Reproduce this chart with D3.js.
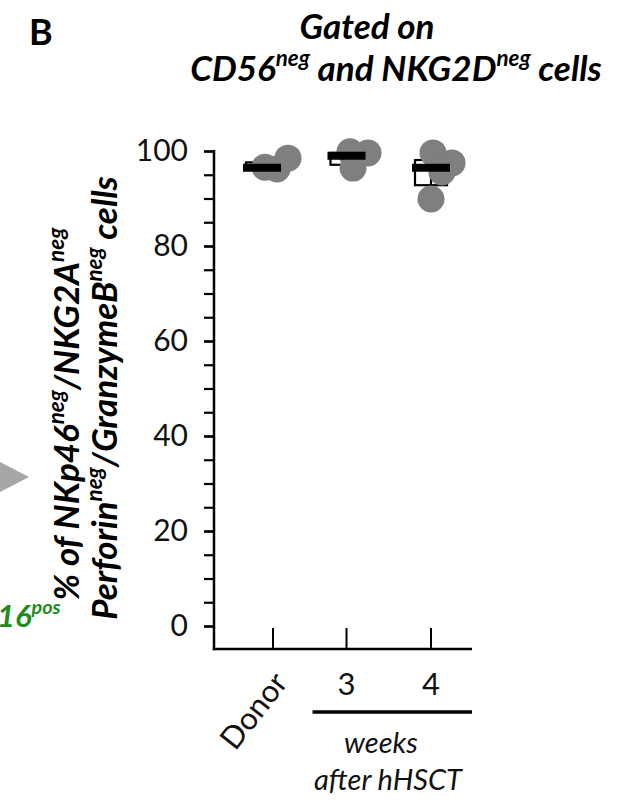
<!DOCTYPE html>
<html>
<head>
<meta charset="utf-8">
<script src="https://cdn.jsdelivr.net/npm/d3@7"></script>
<style>
  body { margin: 0; background: #fff; }
  text { font-family: Lato, "Open Sans", sans-serif; }
</style>
</head>
<body>
<div id="chart"></div>
<script>
// data
const groups = ["Donor", "3", "4"];
const donorValues = [96.6, 96.2, 98.5];
const week3Values = [99.85, 99.6, 96.4];
const week4Values = [99.6, 97.5, 95.6, 89.9];
const groupMeans = [96.5, 99.0, 96.5];
const boxLow = [96.2, 97.1, 92.8];
const boxHigh = [97.6, 99.6, 98.1];
const yTicks = [0, 20, 40, 60, 80, 100];
const yMinorTicks = [0, 5, 10, 15, 20, 25, 30, 35, 40, 45, 50, 55, 60, 65, 70, 75, 80, 85, 90, 95, 100];

// layout
const width = 619, height = 802;
const axisX = 214, axisBottom = 649, axisRight = 472;
const dotR = 13.5;
const dotJitter = [[3, 15, 26], [3.5, 21.5, 6.5], [2, 21, 11, 0]];
const tickNudge = { Donor: 11 };
const grey = "#7f7f7f";

const allValues = [donorValues, week3Values, week4Values];

const svg = d3.select("#chart").append("svg")
    .attr("width", width)
    .attr("height", height);

const x = d3.scalePoint().domain(groups).range([262, 431]);
const y = d3.scaleLinear().domain([0, 100]).range([626, 151]);

// text with superscripts
function rich(sel, parts, size) {
    parts.forEach(([s, sup]) => {
        const t = sel.append("tspan").text(s);
        if (sup) t.attr("font-size", size * 0.64).attr("dy", -size * 0.42);
        else if (sel.selectAll("tspan").size() > 1) t.attr("dy", size * 0.42);
    });
}

// panel letter + title
svg.append("text").attr("x", 29).attr("y", 45)
    .attr("font-size", 36).attr("font-weight", 700).text("B");

svg.append("text").attr("x", 367).attr("y", 39).attr("text-anchor", "middle")
    .attr("font-size", 35).attr("font-weight", 700).attr("font-style", "italic")
    .text("Gated on");
svg.append("text").attr("x", 396).attr("y", 81).attr("text-anchor", "middle")
    .attr("font-size", 35).attr("font-weight", 700).attr("font-style", "italic")
    .call(rich, [["CD56"], ["neg", 1], [" and NKG2D"], ["neg", 1], [" cells"]], 35);

// fragments of the neighbouring panel
svg.append("path").attr("d", "M0,462L29,477L0,492Z").attr("fill", "#a6a6a6");
svg.append("text").attr("x", -3).attr("y", 627)
    .attr("font-size", 31).attr("font-weight", 700).attr("font-style", "italic")
    .attr("fill", "#1e8c1e")
    .call(rich, [["16"], ["pos", 1]], 31);

// y label
svg.append("text").attr("transform", "translate(79,414) rotate(-90)")
    .attr("text-anchor", "middle").attr("font-size", 35)
    .attr("font-weight", 700).attr("font-style", "italic")
    .call(rich, [["% of NKp46"], ["neg", 1], ["/NKG2A"], ["neg", 1]], 35);
svg.append("text").attr("transform", "translate(117,398) rotate(-90)")
    .attr("text-anchor", "middle").attr("font-size", 35)
    .attr("font-weight", 700).attr("font-style", "italic")
    .call(rich, [["Perforin"], ["neg", 1], ["/GranzymeB"], ["neg", 1], [" cells"]], 35);

// y axis
const yMinor = svg.append("g").attr("transform", `translate(${axisX},0)`)
    .call(d3.axisLeft(y).tickValues(yMinorTicks).tickSize(10).tickSizeOuter(0).tickFormat(""));
const yAxis = svg.append("g").attr("transform", `translate(${axisX},0)`)
    .call(d3.axisLeft(y).tickValues(yTicks).tickSize(10).tickPadding(16).tickSizeOuter(0));
[yMinor, yAxis].forEach(g => {
    g.select(".domain").remove();
    g.selectAll(".tick line").attr("stroke", "#000").attr("stroke-width", 2.2);
});
yAxis.selectAll(".tick text")
    .attr("font-size", 30).attr("font-family", "Lato, sans-serif")
    .attr("fill", "#111").attr("dy", "0.3em");

svg.append("line").attr("x1", axisX).attr("x2", axisX)
    .attr("y1", y(100) - 1).attr("y2", axisBottom + 1.2)
    .attr("stroke", "#000").attr("stroke-width", 2.5);
svg.append("line").attr("x1", axisX - 1.2).attr("x2", axisRight)
    .attr("y1", axisBottom).attr("y2", axisBottom)
    .attr("stroke", "#000").attr("stroke-width", 2.5);

// x ticks and labels
const tickX = g => x(g) + (tickNudge[g] || 0);
svg.selectAll(".xtick").data(groups).enter().append("line")
    .attr("class", "xtick")
    .attr("x1", tickX).attr("x2", tickX)
    .attr("y1", axisBottom).attr("y2", axisBottom - 21)
    .attr("stroke", "#000").attr("stroke-width", 2);

svg.selectAll(".xlab").data(groups.slice(1)).enter().append("text")
    .attr("class", "xlab")
    .attr("x", tickX).attr("y", 695)
    .attr("text-anchor", "middle").attr("font-size", 31).attr("fill", "#111")
    .text(d => d);
svg.append("text")
    .attr("transform", `translate(${tickX("Donor") + 16},683) rotate(-52)`)
    .attr("text-anchor", "end").attr("font-size", 31).attr("fill", "#111")
    .text(groups[0]);

svg.append("line").attr("x1", x("3") - 34).attr("x2", axisRight)
    .attr("y1", 712).attr("y2", 712)
    .attr("stroke", "#000").attr("stroke-width", 3.5);
svg.append("text").attr("x", 381).attr("y", 753).attr("text-anchor", "middle")
    .attr("font-size", 29).attr("font-style", "italic").attr("fill", "#111")
    .text("weeks");
svg.append("text").attr("x", 388).attr("y", 790).attr("text-anchor", "middle")
    .attr("font-size", 29).attr("font-style", "italic").attr("fill", "#111")
    .text("after hHSCT");

// boxes behind the dots
const plot = svg.append("g");
plot.selectAll(".box").data(groups).enter().append("rect")
    .attr("class", "box")
    .attr("x", g => x(g) - 16).attr("width", 32)
    .attr("y", (g, i) => y(boxHigh[i]))
    .attr("height", (g, i) => y(boxLow[i]) - y(boxHigh[i]))
    .attr("fill", "none").attr("stroke", "#000").attr("stroke-width", 2.2);
plot.selectAll(".stem").data(groups).enter().append("line")
    .attr("class", "stem")
    .attr("x1", g => x(g)).attr("x2", g => x(g))
    .attr("y1", (g, i) => y(groupMeans[i])).attr("y2", (g, i) => y(boxLow[i]))
    .attr("stroke", "#000").attr("stroke-width", 2.2);

// dots
const dots = [];
allValues.forEach((vals, i) => vals.forEach((v, j) =>
    dots.push({ g: groups[i], v, dx: dotJitter[i][j] })));
plot.selectAll(".dot").data(dots).enter().append("circle")
    .attr("class", "dot")
    .attr("cx", d => x(d.g) + d.dx)
    .attr("cy", d => y(d.v))
    .attr("r", dotR)
    .attr("fill", grey);

// mean bars
plot.selectAll(".mean").data(groups).enter().append("line")
    .attr("class", "mean")
    .attr("x1", g => x(g) - 19).attr("x2", g => x(g) + 19)
    .attr("y1", (g, i) => y(groupMeans[i])).attr("y2", (g, i) => y(groupMeans[i]))
    .attr("stroke", "#000").attr("stroke-width", 8);
</script>
</body>
</html>
